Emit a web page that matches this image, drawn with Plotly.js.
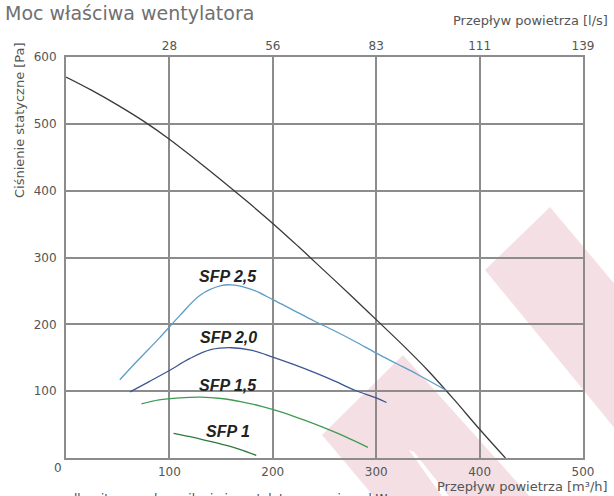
<!DOCTYPE html>
<html>
<head>
<meta charset="utf-8">
<script src="https://cdn.plot.ly/plotly-3.0.1.min.js"></script>
<style>
  html, body { margin: 0; padding: 0; background: #fff; }
  #chart { width: 614px; height: 496px; }
</style>
</head>
<body>
<div id="chart"></div>
<script>
// ---- data ----
const xTickVals = [100, 200, 300, 400, 500];          // m³/h
const topTickLabels = ['28', '56', '83', '111', '139']; // l/s
const yTickVals = [100, 200, 300, 400, 500, 600];       // Pa

const fanFlow     = [0, 25, 50, 75, 100, 125, 150, 175, 200, 225, 250, 275, 300, 325, 350, 375, 400, 425];
const fanPressure = [570, 550, 528, 504, 477, 447, 416, 384, 351, 316, 280, 244, 207, 170, 131, 88, 43, 0];

const sfp25Flow     = [52, 70, 90, 110, 130, 150, 160, 180, 200, 220, 240, 260, 280, 300, 320, 340, 368];
const sfp25Pressure = [117, 147, 179, 213, 244, 258, 259, 252, 237, 221, 205, 190, 174, 157, 141, 125, 101];

const sfp20Flow     = [62, 80, 100, 120, 140, 160, 180, 200, 220, 240, 260, 280, 300, 310];
const sfp20Pressure = [99, 114, 131, 149, 162, 165, 161, 151, 140, 128, 115, 101, 90, 83];

const sfp15Flow     = [73, 90, 110, 130, 150, 170, 190, 210, 230, 250, 270, 292];
const sfp15Pressure = [81, 87, 90, 91, 89, 84, 77, 68, 57, 45, 32, 16];

const sfp10Flow     = [104, 120, 136, 152, 168, 184];
const sfp10Pressure = [37, 32, 26, 20, 13, 4];

const sfpLabels = ['SFP 2,5', 'SFP 2,0', 'SFP 1,5', 'SFP 1'];

// ---- layout geometry ----
const W = 614, H = 496;
const ML = 66, MR = 31, MT = 57, MB = 38;
const PW = W - ML - MR, PH = H - MT - MB;
const px = p => (p - ML) / PW;          // pixel x -> paper x
const py = p => (H - MB - p) / PH;      // pixel y -> paper y

const gridCol = '#8c8c8c';
const tickFont = {family: 'DejaVu Sans, sans-serif', size: 12, color: '#555'};
const textFont = {family: 'DejaVu Sans, sans-serif', size: 13, color: '#555'};

function line(x, y, color) {
  return {x: x, y: y, type: 'scatter', mode: 'lines',
          line: {color: color, width: 1.3, shape: 'spline', smoothing: 1},
          hoverinfo: 'skip', showlegend: false};
}

const traces = [
  line(fanFlow, fanPressure, '#3a3a3a'),
  line(sfp25Flow, sfp25Pressure, '#5c9dc6'),
  line(sfp20Flow, sfp20Pressure, '#3d5693'),
  line(sfp15Flow, sfp15Pressure, '#3f9a52'),
  line(sfp10Flow, sfp10Pressure, '#2f7a3d'),
  {x: [], y: [], xaxis: 'x2', type: 'scatter', mode: 'lines', showlegend: false, hoverinfo: 'skip'}
];

// watermark stripes (decorative, pixel geometry)
function poly(pts, color) {
  const d = pts.map((p, i) => (i ? 'L' : 'M') + px(p[0]).toFixed(4) + ',' + py(p[1]).toFixed(4)).join(' ') + ' Z';
  return {type: 'path', xref: 'paper', yref: 'paper', path: d, fillcolor: color,
          line: {width: 0}, layer: 'below'};
}
const pink = '#f4e0e4';
const shapes = [
  poly([[485, 270], [550, 207], [680, 362], [680, 508]], pink),
  poly([[322, 435], [403, 355], [560, 530], [402, 530]], pink),
  poly([[409, 450], [414, 452], [460, 510], [452, 510]], '#ffffff')
];

const labelY = [271, 180, 109, 39];
const annotations = sfpLabels.map((t, i) => ({
  x: 157, y: labelY[i], xref: 'x', yref: 'y', text: '<b><i>' + t + '</i></b>',
  showarrow: false, font: {family: 'Liberation Sans, Arial, sans-serif', size: 16, color: '#222'}
}));

annotations.push(
  {x: px(19), y: py(40), xref: 'paper', yref: 'paper', text: 'Ciśnienie statyczne [Pa]',
   textangle: -90, showarrow: false, xanchor: 'center', yanchor: 'top', font: textFont},
  {x: px(610), y: py(20), xref: 'paper', yref: 'paper', text: 'Przepływ powietrza [l/s]',
   showarrow: false, xanchor: 'right', yanchor: 'middle', font: textFont},
  {x: px(610), y: py(486), xref: 'paper', yref: 'paper', text: 'Przepływ powietrza [m³/h]',
   showarrow: false, xanchor: 'right', yanchor: 'middle', font: textFont},
  {x: px(58), y: py(468), xref: 'paper', yref: 'paper', text: '0',
   showarrow: false, xanchor: 'center', yanchor: 'middle', font: tickFont},
  {x: px(58), y: py(490), xref: 'paper', yref: 'paper',
   text: 'całkowita moc do zasilania i wentylatory wyrażona kW',
   showarrow: false, xanchor: 'left', yanchor: 'top',
   font: {family: 'DejaVu Sans, sans-serif', size: 12, color: '#444'}}
);

const layout = {
  width: W, height: H,
  margin: {l: ML, r: MR, t: MT, b: MB, pad: 0},
  paper_bgcolor: '#ffffff', plot_bgcolor: 'rgba(0,0,0,0)',
  showlegend: false,
  title: {text: 'Moc właściwa wentylatora', x: 5 / W, xanchor: 'left', xref: 'container',
          y: 1 - 13 / H, yanchor: 'middle', yref: 'container',
          font: {family: 'DejaVu Sans, sans-serif', size: 19, color: '#707070'}},
  xaxis: {range: [0, 500], tickvals: xTickVals, ticks: '', showgrid: true,
          gridcolor: gridCol, gridwidth: 2, zeroline: false,
          showline: true, mirror: true, linecolor: gridCol, linewidth: 2,
          tickfont: tickFont, ticklabelstandoff: 2, fixedrange: true},
  xaxis2: {range: [0, 500], overlaying: 'x', side: 'top', anchor: 'y',
           tickvals: xTickVals, ticktext: topTickLabels, ticks: '',
           showgrid: false, zeroline: false, showline: false,
           tickfont: tickFont, ticklabelstandoff: 4, fixedrange: true},
  yaxis: {range: [0, 600], tickvals: yTickVals, ticks: '', showgrid: true,
          gridcolor: gridCol, gridwidth: 2, zeroline: false,
          showline: true, mirror: true, linecolor: gridCol, linewidth: 2,
          tickfont: tickFont, ticklabelstandoff: 5, fixedrange: true},
  shapes: shapes,
  annotations: annotations
};

Plotly.newPlot('chart', traces, layout, {staticPlot: true, displayModeBar: false});
</script>
</body>
</html>
